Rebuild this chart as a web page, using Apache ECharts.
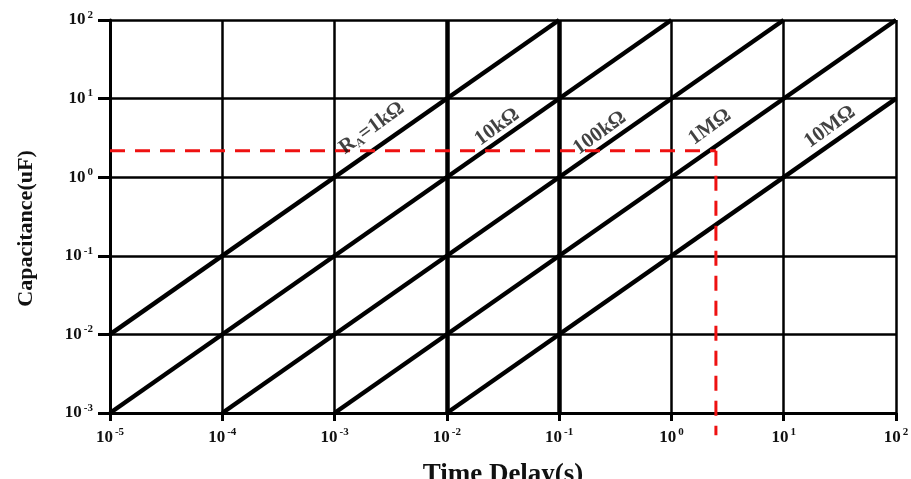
<!DOCTYPE html>
<html><head><meta charset="utf-8">
<script src="https://cdn.jsdelivr.net/npm/echarts@6/dist/echarts.min.js"></script>
<style>html,body{margin:0;padding:0;background:#fff}#c{width:911px;height:479px}</style>
</head><body><div id="c"></div>
<script>
// Resistor lines: [time (s), capacitance (uF)] endpoints
const names = ['1kΩ', '10kΩ', '100kΩ', '1MΩ', '10MΩ'];
const line1k = [[1e-5, 1e-2], [1e-1, 1e2]];
const line10k = [[1e-5, 1e-3], [1e0, 1e2]];
const line100k = [[1e-4, 1e-3], [1e1, 1e2]];
const line1M = [[1e-3, 1e-3], [1e2, 1e2]];
const line10M = [[1e-2, 1e-3], [1e2, 1e1]];
// Label anchor points [time, capacitance]
const labelPoints = [[2.15e-3, 4.2], [0.028, 4.35], [0.23, 3.65], [2.2, 4.35], [25.8, 4.35]];
const labelTexts = ['{t|R}{sub|A}{t|=1kΩ}', '{t|10kΩ}', '{t|100kΩ}', '{t|1MΩ}', '{t|10MΩ}'];
// Red dashed example reading
const exampleH = [[1e-5, 2.17], [2.49, 2.17]];
const exampleV = [[2.49, 2.17], [2.49, 5.2e-4]];
// Thick vertical grid lines
const thickX = [1e-2, 1e-1];

const serif = '"Liberation Serif","DejaVu Serif",serif';
function expLabel(v) {
  const e = Math.round(Math.log10(v));
  return '{b|10}{s|' + e + '}';
}
const tickRich = {
  b: {fontFamily: serif, fontWeight: 'bold', fontSize: 17, color: '#111'},
  s: {fontFamily: serif, fontWeight: 'bold', fontSize: 11, color: '#111', verticalAlign: 'top', padding: [0, 0, 10, 2]}
};
const lineSeries = [line1k, line10k, line100k, line1M, line10M].map((d, i) => ({
  type: 'line', name: names[i], data: d, symbol: 'none',
  lineStyle: {color: '#000', width: 4.5}, z: 5, silent: true
}));

const chart = echarts.init(document.getElementById('c'));
chart.setOption({
  animation: false,
  backgroundColor: '#fff',
  grid: {left: 110, right: 15, top: 20, bottom: 66, outerBoundsMode: 'none', containLabel: false},
  xAxis: {
    type: 'log', logBase: 10, min: 1e-5, max: 1e2,
    name: 'Time Delay(s)', nameLocation: 'middle', nameGap: 49,
    nameTextStyle: {fontFamily: serif, fontWeight: 'bold', fontSize: 27, color: '#111'},
    axisLine: {lineStyle: {color: '#000', width: 3}},
    axisTick: {show: true, length: 8, lineStyle: {color: '#000', width: 3}},
    axisLabel: {formatter: expLabel, rich: tickRich, margin: 14},
    splitLine: {show: true, lineStyle: {color: '#000', width: 2.5}},
    minorTick: {show: false}
  },
  yAxis: {
    type: 'log', logBase: 10, min: 1e-3, max: 1e2,
    name: 'Capacitance(uF)', nameLocation: 'middle', nameGap: 73, nameRotate: 90,
    nameTextStyle: {fontFamily: serif, fontWeight: 'bold', fontSize: 22, color: '#111', padding: [0, 24, 0, 0]},
    axisLine: {lineStyle: {color: '#000', width: 3}},
    axisTick: {show: true, length: 12, lineStyle: {color: '#000', width: 3}},
    axisLabel: {formatter: expLabel, rich: tickRich, margin: 17},
    splitLine: {show: true, lineStyle: {color: '#000', width: 2.5}},
    minorTick: {show: false}
  },
  series: lineSeries.concat([
    {
      type: 'line', data: [[thickX[0], 1e-3]], symbol: 'none', silent: true,
      markLine: {symbol: 'none', silent: true, label: {show: false},
        lineStyle: {color: '#000', width: 4.5, type: 'solid'},
        data: thickX.map(v => ({xAxis: v}))}
    },
    {
      type: 'line', data: exampleH, symbol: 'none', clip: false, z: 6,
      lineStyle: {color: '#ee1111', width: 3, type: [15, 10]}
    },
    {
      type: 'line', data: exampleV, symbol: 'none', clip: false, z: 6,
      lineStyle: {color: '#ee1111', width: 3, type: [15, 10]}
    },
    {
      type: 'scatter', symbolSize: 0, z: 7, silent: true,
      data: labelPoints.map((p, i) => ({value: p, label: {formatter: labelTexts[i]}})),
      label: {
        show: true, position: 'inside', rotate: 36,
        rich: {
          t: {fontFamily: serif, fontWeight: 'bold', fontSize: 21, color: '#111'},
          sub: {fontFamily: serif, fontWeight: 'bold', fontSize: 12, color: '#111', verticalAlign: 'bottom', padding: [10, 0, 0, 0]}
        }
      }
    }
  ])
});
</script></body></html>
